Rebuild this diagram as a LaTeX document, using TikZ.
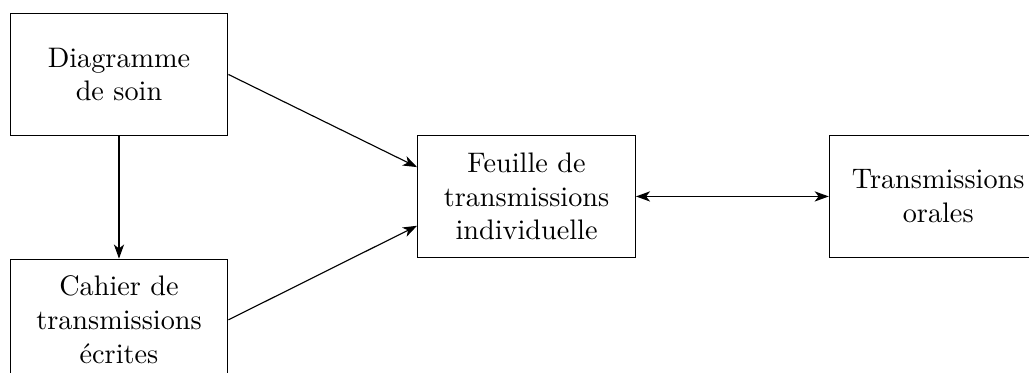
\documentclass[tikz,border=0pt]{standalone}
\usepackage{tikz}
\usetikzlibrary{arrows.meta,positioning}
\tikzset{
	>={Stealth[length=5pt,width=3.6pt,inset=1.4pt]},
}

\begin{document}
\begin{tikzpicture}[
	box/.style = {draw, align=center, minimum width=2.71cm, minimum height=1.51cm, inner sep=0, text width=2.6cm}]
\clip (-1.481,0.927) rectangle (11.326,-3.715);
\node[box] (diagramme) {Diagramme\\de soin};
\node[box,below=1.53cm of diagramme] (cahier) {Cahier de\\transmissions\\écrites};
\node[box] (feuille) at (5.072,-1.518) {Feuille de\\transmissions\\individuelle};
\node[box,right=2.4cm of feuille] (orales) {Transmissions\\orales};
\draw[->] (diagramme) -- (cahier);
\draw[->] (diagramme.east) -- (feuille.165);
\draw[->] (cahier.east) -- (feuille.195);
\draw[<->] (feuille) -- (orales);
\end{tikzpicture}
\end{document}
